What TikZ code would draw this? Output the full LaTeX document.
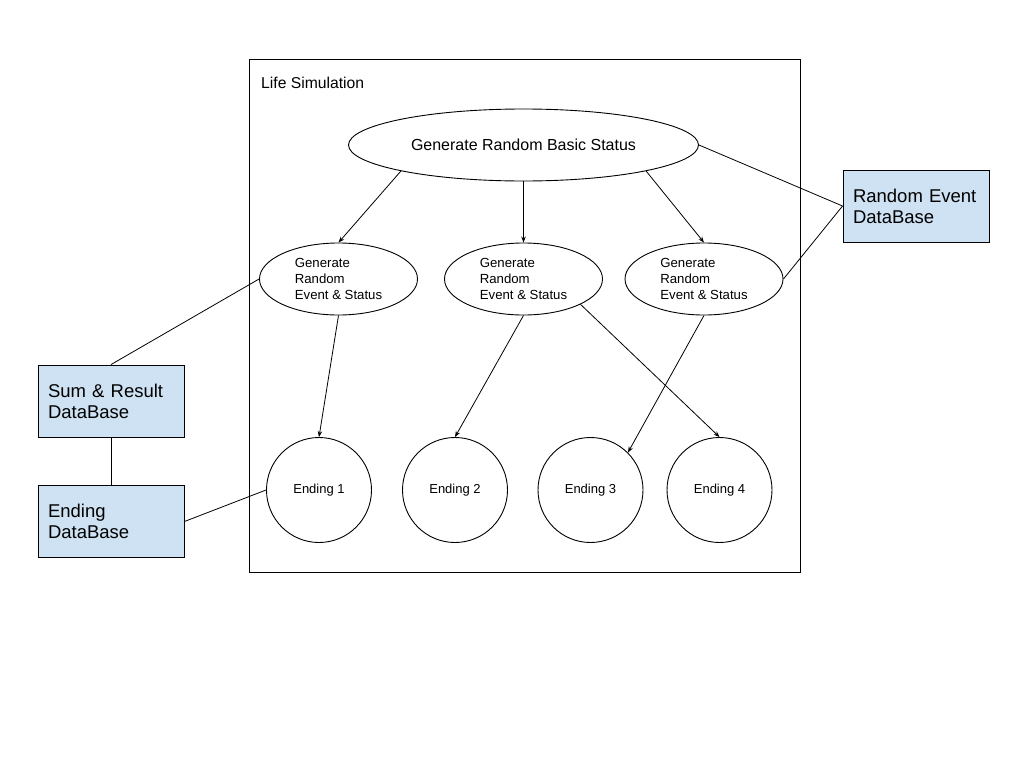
\documentclass[tikz,border=0pt]{standalone}
\usepackage{fontspec}
\setmainfont{Liberation Sans}
\usepackage{xcolor}
\usepackage{tikz}
\usetikzlibrary{shapes.geometric,arrows.meta}
\definecolor{dbblue}{HTML}{CFE2F3}
\tikzset{
  frame/.style={rectangle, draw=black, line width=0.9pt, minimum width=551pt, minimum height=513pt, inner sep=0pt},
  topell/.style={ellipse, draw=black, line width=0.9pt, minimum width=350pt, minimum height=72pt, inner sep=0pt, font=\fontsize{16}{19}\selectfont},
  subell/.style={ellipse, draw=black, line width=0.9pt, minimum width=158pt, minimum height=72pt, inner sep=0pt, align=left, font=\fontsize{13.2}{16}\selectfont},
  endc/.style={circle, draw=black, line width=0.9pt, minimum size=105pt, inner sep=0pt, font=\fontsize{13}{15}\selectfont},
  db/.style={rectangle, fill=dbblue, draw=black, line width=0.9pt, minimum height=72pt, text width=126pt, inner xsep=10pt, align=left, font=\fontsize{18.5}{21}\selectfont},
  ar/.style={draw=black, line width=0.8pt, -{Stealth[length=6pt,width=4.5pt]}},
  ln/.style={draw=black, line width=0.8pt},
  lbl/.style={font=\fontsize{15.7}{18}\selectfont, inner sep=0pt}
}
\begin{document}
\begin{tikzpicture}[x=1pt, y=-1pt]
  \useasboundingbox (0,0) rectangle (1024,768);

  % Simulation frame
  \node[frame, anchor=north west] (sim) at (249,59) {};
  \node[lbl, anchor=west] (title) at (261,83) {Life Simulation};

  % Top status
  \node[topell] (gen) at (523.5,145) {Generate Random Basic Status};

  % Event and status tier
  \node[subell] (ev1) at (338.5,279) {Generate\\Random\\Event \& Status};
  \node[subell] (ev2) at (523.5,279) {Generate\\Random\\Event \& Status};
  \node[subell] (ev3) at (704,279) {Generate\\Random\\Event \& Status};

  % Endings
  \node[endc] (end1) at (319,490) {Ending 1};
  \node[endc] (end2) at (455,490) {Ending 2};
  \node[endc] (end3) at (590.5,490) {Ending 3};
  \node[endc] (end4) at (719.5,490) {Ending 4};

  % Databases
  \node[db] (rnd) at (916,206) {Random Event\\DataBase};
  \node[db] (sum) at (111,401) {Sum \& Result\\DataBase};
  \node[db] (endb) at (111,521.5) {Ending\\DataBase};

  % Top status to events
  \draw[ar] (gen.192) -- (ev1.north);
  \draw[ar] (gen.south) -- (ev2.north);
  \draw[ar] (gen.348) -- (ev3.north);

  % Events to endings
  \draw[ar] (ev1.south) -- (end1.north);
  \draw[ar] (ev2.south) -- (end2.north);
  \draw[ar] (ev2.336) -- (end4.north);
  \draw[ar] (ev3.south) -- (end3.45);

  % Database links
  \draw[ln] (gen.east) -- (rnd.west);
  \draw[ln] (ev3.east) -- (rnd.west);
  \draw[ln] (ev1.west) -- (sum.north);
  \draw[ln] (sum.south) -- (endb.north);
  \draw[ln] (endb.east) -- (end1.west);
\end{tikzpicture}
\end{document}
